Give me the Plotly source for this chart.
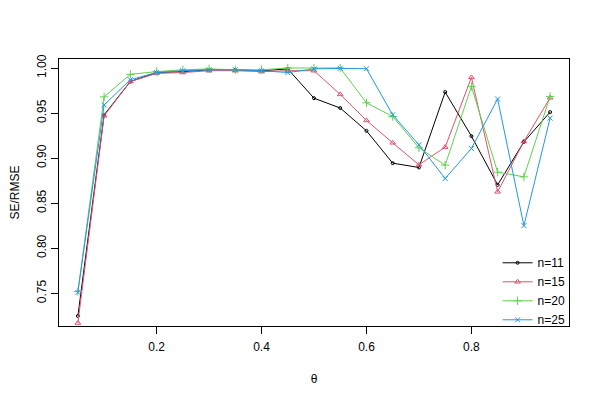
import plotly.graph_objects as go

theta = [0.05, 0.10, 0.15, 0.20, 0.25, 0.30, 0.35, 0.40, 0.45, 0.50,
         0.55, 0.60, 0.65, 0.70, 0.75, 0.80, 0.85, 0.90, 0.95]

n11 = [0.7248, 0.948, 0.985, 0.995, 0.996, 0.998, 0.998, 0.997, 0.999, 0.9665,
       0.9556, 0.9303, 0.8944, 0.8896, 0.9733, 0.9244, 0.8703, 0.918, 0.9511]
n15 = [0.717, 0.947, 0.985, 0.994, 0.995, 0.997, 0.997, 0.996, 0.997, 0.997,
       0.9707, 0.9418, 0.917, 0.8926, 0.9122, 0.9896, 0.8626, 0.9185, 0.967]
n20 = [0.752, 0.968, 0.993, 0.996, 0.998, 0.999, 0.998, 0.998, 1.000, 1.000,
       1.000, 0.9614, 0.9462, 0.9114, 0.8922, 0.9796, 0.8844, 0.8792, 0.9685]
n25 = [0.751, 0.959, 0.987, 0.995, 0.997, 0.998, 0.998, 0.997, 0.995, 0.999,
       0.9996, 0.9992, 0.948, 0.9148, 0.8774, 0.9107, 0.9656, 0.8251, 0.9444]

series_names = ["n=11", "n=15", "n=20", "n=25"]
x_ticks = [0.2, 0.4, 0.6, 0.8]
x_tick_labels = ["0.2", "0.4", "0.6", "0.8"]
y_ticks = [0.75, 0.80, 0.85, 0.90, 0.95, 1.00]
y_tick_labels = ["0.75", "0.80", "0.85", "0.90", "0.95", "1.00"]

colors = ["#000000", "#DF536B", "#61D04F", "#2297E6"]
symbols = ["circle-open", "triangle-up-open", "cross-thin-open", "x-thin-open"]
sizes = [3, 5, 6, 5]

fig = go.Figure()
for name, ys, c, s, sz in zip(series_names, [n11, n15, n20, n25], colors, symbols, sizes):
    fig.add_trace(go.Scatter(
        x=theta, y=ys, name=name, mode="lines+markers",
        line=dict(color=c, width=1),
        marker=dict(symbol=s, size=sz, color=c, line=dict(color=c, width=1)),
    ))

font = dict(family="Liberation Sans, Arial, sans-serif", size=12, color="#000000")

# the page body adds an 8px margin, so the figure is 592x392 and offsets are reduced by 8
fig.update_layout(
    width=592, height=392,
    margin=dict(l=51, r=31, t=51, b=74, autoexpand=False),
    paper_bgcolor="white", plot_bgcolor="white",
    font=font,
    showlegend=True,
    legend=dict(
        x=0.86, y=0.13, xanchor="left", yanchor="middle",
        bgcolor="rgba(0,0,0,0)", borderwidth=0,
        font=dict(family="Liberation Sans, Arial, sans-serif", size=12, color="#000000"),
        tracegroupgap=0, itemwidth=30,
    ),
    xaxis=dict(
        range=[0.014, 0.986], tickvals=x_ticks, ticktext=x_tick_labels,
        showgrid=False, zeroline=False, automargin=False,
        showline=True, mirror=True, linecolor="black", linewidth=1,
        ticks="outside", ticklen=7, tickcolor="black", ticklabelstandoff=3,
        title=dict(text="θ", standoff=21, font=font),
    ),
    yaxis=dict(
        range=[0.7137, 1.0100], tickvals=y_ticks, ticktext=y_tick_labels,
        tickangle=-90, automargin=False,
        showgrid=False, zeroline=False,
        showline=True, mirror=True, linecolor="black", linewidth=1,
        ticks="outside", ticklen=7, tickcolor="black",
        title=dict(text="SE/RMSE", standoff=16, font=font),
    ),
)

fig.write_html("out.html")
